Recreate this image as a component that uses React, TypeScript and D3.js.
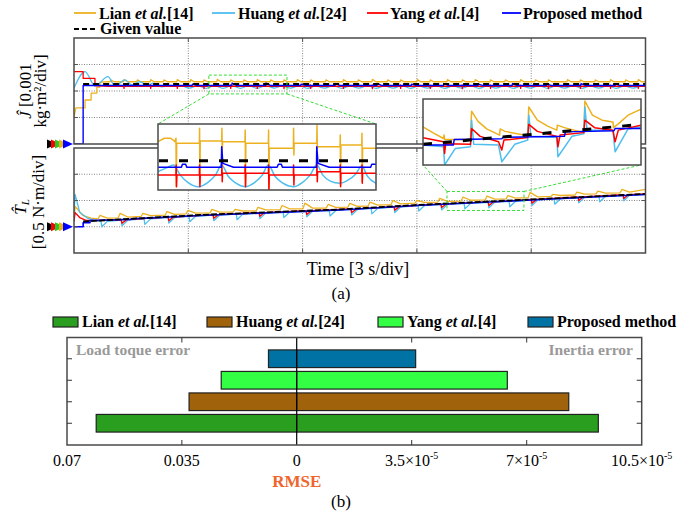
import React from 'react';
import * as d3 from 'd3';

type Pt = [number, number];

// ---------- panel (a) data: time in s, J in 0.001 kg·m²/div, T_L in 0.5 N·m/div ----------
const jGiven: Pt[] = [[0.24, 2.26], [15, 2.26]];

const lianJStart: Pt[] = [[0, 1.02], [0.05, 1.36], [0.29, 1.36], [0.29, 1.66], [0.45, 1.66], [0.45, 1.92], [0.6, 1.92], [0.6, 2.15], [0.68, 2.15], [0.68, 2.33], [0.9, 2.35]];
const lianJLevel = 2.35;
const lianJSpikes: Pt[] = [[0.95, 2.42], [1.3, 2.43], [1.65, 2.42], [2.0, 2.43], [2.35, 2.42], [2.7, 2.43], [3.05, 2.43], [3.4, 2.42], [3.75, 2.44], [4.1, 2.42], [4.45, 2.42], [4.8, 2.43], [5.15, 2.42], [5.5, 2.42], [5.85, 2.43], [6.2, 2.42], [6.6, 2.42], [7.06, 2.43], [7.45, 2.42], [7.82, 2.44], [8.22, 2.42], [8.56, 2.42], [9.0, 2.43], [9.34, 2.42], [9.79, 2.43], [10.18, 2.42], [10.52, 2.43], [10.92, 2.42], [11.31, 2.42], [11.71, 2.43], [12.1, 2.42], [12.44, 2.42], [12.94, 2.43], [13.28, 2.42], [13.67, 2.42], [14.07, 2.43], [14.47, 2.42], [14.8, 2.43]];

const huangJStart: Pt[] = [[0, 2.11], [0.29, 2.73], [0.55, 2.19], [0.89, 2.54], [1.08, 2.19], [1.34, 2.42], [1.52, 2.23], [1.73, 2.35], [1.94, 2.2], [2.07, 2.3], [2.3, 2.16], [2.55, 2.2]];
// [peak time, peak, following trough]
const huangJCycles: [number, number, number][] = [[2.8, 2.2, 2.11], [3.24, 2.2, 2.1], [3.684, 2.2, 2.1], [4.139, 2.2, 2.1], [4.578, 2.2, 2.1], [5.033, 2.2, 2.11], [5.456, 2.19, 2.11], [5.9, 2.2, 2.1], [6.35, 2.19, 2.11], [6.8, 2.2, 2.1], [7.25, 2.19, 2.11], [7.7, 2.2, 2.1], [8.15, 2.19, 2.11], [8.6, 2.2, 2.1], [9.05, 2.19, 2.11], [9.5, 2.2, 2.1], [9.95, 2.19, 2.11], [10.4, 2.2, 2.1], [10.85, 2.19, 2.11], [11.3, 2.2, 2.1], [11.75, 2.19, 2.11], [12.2, 2.2, 2.1], [12.65, 2.19, 2.11], [13.1, 2.2, 2.1], [13.55, 2.19, 2.11], [14.0, 2.2, 2.1], [14.45, 2.19, 2.11], [14.9, 2.2, 2.12]];

const yangJStart: Pt[] = [[0, 2.73], [0.24, 2.73], [0.24, 2.48], [0.55, 2.48], [0.55, 2.2], [0.9, 2.18]];
const yangJLevel = 2.18;
// [time, up, down]
const yangJSpikes: [number, number, number][] = [[1.3, 2.23, 2.1], [2.0, 2.23, 2.1], [2.7, 2.22, 2.1], [3.4, 2.23, 2.09], [4.1, 2.23, 2.1], [4.8, 2.22, 2.1], [5.5, 2.23, 2.09], [6.2, 2.23, 2.1], [7.06, 2.22, 2.1], [7.82, 2.23, 2.09], [8.56, 2.23, 2.1], [9.34, 2.22, 2.1], [10.18, 2.23, 2.09], [10.92, 2.23, 2.1], [11.71, 2.22, 2.1], [12.44, 2.23, 2.09], [13.28, 2.23, 2.1], [14.07, 2.22, 2.1], [14.8, 2.23, 2.1]];

const proposedJStart: Pt[] = [[0, 0], [0.24, 0], [0.24, 2.21]];
const proposedJLevel = 2.21;
const proposedJSpikes: Pt[] = [[3.1, 2.26], [4.14, 2.3], [5.03, 2.3], [5.95, 2.26], [6.85, 2.28], [7.95, 2.28], [8.85, 2.26], [9.7, 2.28], [10.6, 2.26], [11.5, 2.28], [12.4, 2.26], [13.3, 2.28], [14.2, 2.26]];

const tGiven: Pt[] = [[0.24, 0.2], [3.31, 0.45], [6.98, 0.66], [9.0, 0.83], [12.0, 1.04], [15, 1.25]];
const lianTStart: Pt[] = [[0, 0.3], [0.03, 0.77], [0.24, 0.42], [0.45, 0.33]];
// [peak time, trough before, peak]
const lianTSpikes: [number, number, number][] = [[0.68, 0.3, 0.43], [1.21, 0.34, 0.51], [1.81, 0.39, 0.51], [2.44, 0.44, 0.58], [2.99, 0.49, 0.62], [3.62, 0.53, 0.66], [4.23, 0.57, 0.66], [4.83, 0.61, 0.74], [5.46, 0.65, 0.81], [6.06, 0.68, 0.9], [6.67, 0.71, 0.85], [7.24, 0.75, 0.89], [7.77, 0.79, 0.94], [8.37, 0.84, 1.0], [9.0, 0.9, 1.0], [9.6, 0.94, 1.08], [10.21, 0.98, 1.13], [10.84, 1.02, 1.17], [11.39, 1.06, 1.19], [11.97, 1.11, 1.31], [12.57, 1.16, 1.23], [13.2, 1.21, 1.32], [13.75, 1.25, 1.36], [14.38, 1.29, 1.42]];
const lianTEnd: Pt[] = [[15, 1.42]];
const huangTStart: Pt[] = [[0, 0.5], [0.03, 1.23], [0.15, 0.55], [0.35, 0.33], [0.6, 0.22]];
// [dip time, base, dip]
const huangTDips: [number, number, number][] = [[0.73, 0.21, 0.0], [1.26, 0.25, 0.04], [1.86, 0.3, 0.09], [2.49, 0.35, 0.14], [3.04, 0.4, 0.19], [3.67, 0.44, 0.23], [4.28, 0.48, 0.27], [4.88, 0.52, 0.31], [5.51, 0.56, 0.35], [6.11, 0.59, 0.38], [6.72, 0.62, 0.41], [7.29, 0.66, 0.45], [7.82, 0.7, 0.49], [8.42, 0.75, 0.54], [9.05, 0.81, 0.6], [9.65, 0.85, 0.64], [10.26, 0.89, 0.68], [10.89, 0.93, 0.72], [11.44, 0.97, 0.76], [12.02, 1.02, 0.81], [12.62, 1.07, 0.86], [13.25, 1.12, 0.91], [13.8, 1.16, 0.95], [14.43, 1.2, 0.99]];
const huangTEnd: Pt[] = [[15, 1.23]];
const yangTStart: Pt[] = [[0, 0.2], [0.03, 0.54], [0.15, 0.35], [0.3, 0.25], [0.6, 0.23]];
const yangTDips: [number, number, number][] = [[1.26, 0.27, 0.13], [2.49, 0.37, 0.23], [3.67, 0.46, 0.32], [4.88, 0.54, 0.4], [6.11, 0.61, 0.47], [7.29, 0.68, 0.54], [8.42, 0.77, 0.63], [9.65, 0.87, 0.73], [10.89, 0.95, 0.81], [12.02, 1.04, 0.9], [13.25, 1.14, 1.0], [14.43, 1.22, 1.08]];
const yangTEnd: Pt[] = [[15, 1.25]];
const proposedT: Pt[] = [[0, 0], [0.24, 0], [0.24, 0.15], [0.42, 0.15], [0.42, 0.24], [1.5, 0.28], [1.5, 0.3], [3.31, 0.43], [6.98, 0.64], [9.0, 0.81], [12.0, 1.02], [15, 1.23]];

// left inset (zoom of J)
const insetJGiven: Pt[] = [[3.54, 2.26], [5.59, 2.26]];
const insetJLian: Pt[] = [[3.54, 2.419], [3.6, 2.447], [3.66, 2.447], [3.7, 2.419], [3.709, 2.447], [3.712, 2.044], [3.716, 2.405], [3.929, 2.405], [3.931, 2.53], [3.934, 2.072], [3.937, 2.424], [4.139, 2.424], [4.141, 2.53], [4.144, 2.335], [4.147, 2.419], [4.358, 2.419], [4.36, 2.516], [4.363, 2.044], [4.366, 2.405], [4.578, 2.405], [4.58, 2.516], [4.583, 2.016], [4.586, 2.363], [4.813, 2.363], [4.815, 2.53], [4.818, 2.308], [4.821, 2.405], [5.033, 2.405], [5.035, 2.558], [5.038, 2.363], [5.041, 2.377], [5.252, 2.377], [5.254, 2.474], [5.257, 2.058], [5.26, 2.391], [5.456, 2.391], [5.458, 2.488], [5.461, 2.085], [5.464, 2.363], [5.59, 2.363]];
const insetJHuang: Pt[] = [[3.54, 2.17], [3.62, 2.2], [3.684, 2.224], [3.75, 2.14], [3.82, 2.08], [3.919, 2.044], [4.01, 2.08], [4.08, 2.14], [4.139, 2.224], [4.2, 2.13], [4.27, 2.075], [4.358, 2.044], [4.45, 2.08], [4.52, 2.14], [4.578, 2.224], [4.64, 2.13], [4.71, 2.075], [4.813, 2.044], [4.9, 2.08], [4.97, 2.14], [5.033, 2.224], [5.09, 2.14], [5.16, 2.09], [5.252, 2.072], [5.33, 2.1], [5.4, 2.15], [5.456, 2.216], [5.51, 2.13], [5.59, 2.072]];
const insetJYang: Pt[] = [[3.54, 2.141], [3.709, 2.141], [3.711, 2.224], [3.714, 2.044], [3.718, 2.141], [3.929, 2.141], [3.931, 2.224], [3.934, 2.044], [3.937, 2.141], [4.139, 2.141], [4.141, 2.238], [4.144, 2.085], [4.147, 2.155], [4.358, 2.155], [4.36, 2.224], [4.363, 2.044], [4.366, 2.155], [4.578, 2.155], [4.58, 2.224], [4.583, 2.016], [4.586, 2.141], [4.813, 2.141], [4.815, 2.224], [4.818, 2.058], [4.821, 2.141], [5.033, 2.141], [5.035, 2.238], [5.038, 2.085], [5.041, 2.169], [5.252, 2.169], [5.254, 2.224], [5.257, 2.044], [5.26, 2.155], [5.456, 2.155], [5.458, 2.224], [5.461, 2.072], [5.464, 2.155], [5.59, 2.155]];
const insetJProposed: Pt[] = [[3.54, 2.205], [3.76, 2.205], [3.77, 2.23], [3.8, 2.23], [3.81, 2.205], [4.135, 2.205], [4.139, 2.377], [4.15, 2.238], [4.25, 2.205], [4.66, 2.205], [4.672, 2.23], [4.7, 2.23], [4.71, 2.205], [5.03, 2.205], [5.033, 2.377], [5.045, 2.238], [5.15, 2.205], [5.54, 2.205], [5.55, 2.23], [5.59, 2.23]];

// right inset (zoom of T_L)
const insetTGiven: Pt[] = [[9.79, 0.866], [11.81, 1.026]];
const insetTLian: Pt[] = [[9.79, 1.006], [9.88, 0.96], [9.98, 0.913], [9.985, 0.94], [9.99, 0.905], [10.23, 0.905], [10.24, 1.132], [10.3, 1.05], [10.38, 0.99], [10.5, 0.94], [10.505, 0.99], [10.55, 0.97], [10.76, 0.935], [10.77, 1.166], [10.85, 1.06], [10.95, 1.01], [11.03, 0.98], [11.035, 1.02], [11.1, 1.0], [11.28, 0.96], [11.29, 1.214], [11.36, 1.1], [11.45, 1.06], [11.55, 1.046], [11.555, 1.0], [11.6, 1.03], [11.69, 1.1], [11.81, 1.148]];
const insetTHuang: Pt[] = [[9.79, 0.86], [9.98, 0.846], [9.99, 0.7], [10.09, 0.833], [10.23, 0.846], [10.24, 1.06], [10.26, 0.866], [10.49, 0.86], [10.52, 0.726], [10.64, 0.866], [10.76, 0.9], [10.77, 1.1], [10.79, 0.93], [11.03, 0.92], [11.04, 0.766], [11.17, 0.93], [11.28, 0.95], [11.29, 1.166], [11.31, 0.98], [11.55, 0.98], [11.57, 0.806], [11.69, 0.99], [11.81, 1.006]];
const insetTYang: Pt[] = [[9.79, 0.918], [9.98, 0.886], [9.99, 0.793], [10.0, 0.87], [10.23, 0.866], [10.24, 0.993], [10.32, 0.93], [10.49, 0.886], [10.52, 0.82], [10.54, 0.9], [10.76, 0.92], [10.77, 1.026], [10.85, 0.97], [11.03, 0.93], [11.04, 0.846], [11.06, 0.94], [11.28, 0.96], [11.29, 1.06], [11.38, 1.0], [11.55, 0.98], [11.57, 0.886], [11.6, 0.98], [11.81, 1.02]];
const insetTProposed: Pt[] = [[9.79, 0.86], [10.07, 0.86], [10.08, 0.905], [10.52, 0.91], [10.53, 0.922], [11.1, 0.93], [11.11, 0.966], [11.56, 0.975], [11.57, 0.993], [11.81, 0.993]];

// ---------- panel (b) data ----------
const methods = ['Lian', 'Huang', 'Yang', 'Proposed method'];
const methodRefs = ['[14]', '[24]', '[4]', ''];
const loadTorqueRmse = [0.0611, 0.0328, 0.023, 0.0086];
const inertiaRmse = [9.18e-5, 8.28e-5, 6.41e-5, 3.62e-5];
const leftTicks = [0.07, 0.035, 0];
const leftTickLabels = ['0.07', '0.035', '0'];
const rightTicks = [3.5e-5, 7e-5, 10.5e-5];
const rightTickLabels = ['3.5', '7', '10.5'];

const lineColors = ['#EDB120', '#4DBEEE', '#FF0000', '#0000FF'];
const barColors = ['#2A9E1E', '#A0620A', '#33FF44', '#0072A3'];

const SERIF = 'Liberation Serif, Times New Roman, serif';

const spikeTrain = (start: Pt[], level: number, spikes: Pt[], rise: number, fall: number): Pt[] => {
  const pts: Pt[] = [...start];
  spikes.forEach(([t, p]) => pts.push([t, level], [t + rise, p], [t + fall, level]));
  pts.push([15, level]);
  return pts;
};

const Label = ({ name, refTxt }: { name: string; refTxt: string }) =>
  refTxt ? (
    <>
      {name + ' '}
      <tspan fontStyle="italic">et al.</tspan>
      {refTxt}
    </>
  ) : (
    <>{name}</>
  );

export default function App() {
  const xA = d3.scaleLinear().domain([0, 15]).range([74, 645.5]);
  const yJ = d3.scaleLinear().domain([0, 4]).range([144, 38]);
  const yT = d3.scaleLinear().domain([-1, 3]).range([253, 148]);

  const lineGen = (xs: d3.ScaleLinear<number, number>, ys: d3.ScaleLinear<number, number>, curve: d3.CurveFactory = d3.curveLinear) =>
    d3.line<Pt>().x(d => xs(d[0])).y(d => ys(d[1])).curve(curve);

  // build traces
  const lianJ = spikeTrain(lianJStart, lianJLevel, lianJSpikes, 0.012, 0.1);
  const proposedJ = spikeTrain(proposedJStart, proposedJLevel, proposedJSpikes, 0.01, 0.12);
  const yangJ: Pt[] = [...yangJStart];
  yangJSpikes.forEach(([t, u, d]) => yangJ.push([t, yangJLevel], [t + 0.005, u], [t + 0.012, d], [t + 0.02, yangJLevel]));
  yangJ.push([15, yangJLevel]);
  const huangJ: Pt[] = [...huangJStart];
  huangJCycles.forEach(([t, p, tr]) => huangJ.push([t, p], [t + 0.23, tr]));

  const lianT: Pt[] = [...lianTStart];
  lianTSpikes.forEach(([t, tr, p]) => lianT.push([t - 0.05, tr], [t, p], [t + 0.2, tr + 0.03]));
  lianT.push(...lianTEnd);
  const huangT: Pt[] = [...huangTStart];
  huangTDips.forEach(([t, b, d]) => huangT.push([t - 0.02, b], [t, d], [t + 0.15, b]));
  huangT.push(...huangTEnd);
  const yangT: Pt[] = [...yangTStart];
  yangTDips.forEach(([t, b, d]) => yangT.push([t - 0.02, b], [t, d], [t + 0.12, b]));
  yangT.push(...yangTEnd);

  // inset scales
  const inL = { x0: 158, x1: 376, y0: 124, y1: 190 };
  const inR = { x0: 423, x1: 641, y0: 99, y1: 165 };
  const xIL = d3.scaleLinear().domain([3.54, 5.59]).range([inL.x0, inL.x1]);
  const yIL = d3.scaleLinear().domain([2.016, 2.566]).range([inL.y1, inL.y0]);
  const xIR = d3.scaleLinear().domain([9.79, 11.81]).range([inR.x0, inR.x1]);
  const yIR = d3.scaleLinear().domain([0.7, 1.23]).range([inR.y1, inR.y0]);
  // zoomed windows in the main panels
  const winL = { t: [3.54, 5.59], v: [1.89, 2.6] };
  const winR = { t: [9.79, 11.81], v: [0.62, 1.345] };

  const panels = [
    { y: yJ, top: 38, bot: 144, grid: [1, 2, 3], id: 'cJ' },
    { y: yT, top: 148, bot: 253, grid: [0, 1, 2], id: 'cT' },
  ];
  const xGrid = [3, 6, 9, 12];

  const arrowColors = ['#000000', '#FF0000', '#22CC22', '#EDB120', '#0000FF'];
  const arrowTips = [57, 61, 65, 69, 73];

  // panel (b)
  const xL = d3.scaleLinear().domain([0.07, 0]).range([67, 296.7]);
  const xR = d3.scaleLinear().domain([0, 10.5e-5]).range([296.7, 641.7]);
  const barOrder = [3, 2, 1, 0];
  const yB = d3.scaleBand<number>().domain(barOrder).range([348, 434]).paddingInner(0.18).paddingOuter(0.09);
  const bTop = 337.5, bBot = 445, bLeft = 67, bRight = 641.7;

  const legendA = [
    { x: 74, len: 22, tx: 99 },
    { x: 212, len: 23, tx: 238 },
    { x: 367, len: 21, tx: 390 },
    { x: 502, len: 19, tx: 523 },
  ];
  const legendB = [53, 207, 378, 528];

  const traces = (xs: any, ys: any, sets: { d: Pt[]; c: string; w: number; curve?: d3.CurveFactory }[]) =>
    sets.map((s, i) => (
      <path key={i} d={lineGen(xs, ys, s.curve)(s.d) || ''} fill="none" stroke={s.c} strokeWidth={s.w} strokeLinejoin="round" />
    ));

  return (
    <svg width={679} height={516} style={{ position: 'absolute', left: 0, top: 0, background: '#fff', fontFamily: SERIF }}>
      <defs>
        {panels.map(p => (
          <clipPath id={p.id} key={p.id}>
            <rect x={74} y={p.top} width={571.5} height={p.bot - p.top} />
          </clipPath>
        ))}
        <clipPath id="cIL"><rect x={inL.x0} y={inL.y0} width={inL.x1 - inL.x0} height={inL.y1 - inL.y0} /></clipPath>
        <clipPath id="cIR"><rect x={inR.x0} y={inR.y0} width={inR.x1 - inR.x0} height={inR.y1 - inR.y0} /></clipPath>
      </defs>

      {/* legend (a) */}
      <g fontWeight="bold" fontSize={16}>
        {legendA.map((l, i) => (
          <g key={i}>
            <line x1={l.x} x2={l.x + l.len} y1={13} y2={13} stroke={lineColors[i]} strokeWidth={1.8} />
            <text x={l.tx} y={19}><Label name={methods[i]} refTxt={methodRefs[i]} /></text>
          </g>
        ))}
        <line x1={74} x2={97} y1={29} y2={29} stroke="#000" strokeWidth={2} strokeDasharray="5,3" />
        <text x={100} y={34}>Given value</text>
      </g>

      {/* panels (a) */}
      {panels.map(p => (
        <g key={p.id}>
          {xGrid.map(t => (
            <line key={'x' + t} x1={xA(t)} x2={xA(t)} y1={p.top} y2={p.bot} stroke="#666" strokeWidth={0.8} strokeDasharray="1,1.5" />
          ))}
          {p.grid.map(v => (
            <line key={'y' + v} x1={74} x2={645.5} y1={p.y(v)} y2={p.y(v)} stroke="#666" strokeWidth={0.8} strokeDasharray="1,1.5" />
          ))}
        </g>
      ))}
      <g clipPath="url(#cJ)">
        {traces(xA, yJ, [
          { d: lianJ, c: lineColors[0], w: 1.3 },
          { d: huangJ, c: lineColors[1], w: 1.3, curve: d3.curveMonotoneX },
          { d: yangJ, c: lineColors[2], w: 1.3 },
          { d: proposedJ, c: lineColors[3], w: 1.4 },
        ])}
        <path d={lineGen(xA, yJ)(jGiven) || ''} fill="none" stroke="#000" strokeWidth={2} strokeDasharray="6,4" />
      </g>
      <g clipPath="url(#cT)">
        {traces(xA, yT, [
          { d: lianT, c: lineColors[0], w: 1.3 },
          { d: huangT, c: lineColors[1], w: 1.3 },
          { d: yangT, c: lineColors[2], w: 1.3 },
          { d: proposedT, c: lineColors[3], w: 1.6 },
        ])}
        <path d={lineGen(xA, yT)(tGiven) || ''} fill="none" stroke="#000" strokeWidth={1.8} strokeDasharray="6,2" />
      </g>
      {panels.map(p => (
        <g key={'b' + p.id}>
          {xGrid.map(t => (
            <g key={t}>
              <line x1={xA(t)} x2={xA(t)} y1={p.top} y2={p.top + 4} stroke="#555" />
              <line x1={xA(t)} x2={xA(t)} y1={p.bot} y2={p.bot - 4} stroke="#555" />
            </g>
          ))}
          {p.grid.map(v => (
            <g key={v}>
              <line x1={74} x2={78} y1={p.y(v)} y2={p.y(v)} stroke="#555" />
              <line x1={645.5} x2={641.5} y1={p.y(v)} y2={p.y(v)} stroke="#555" />
            </g>
          ))}
          <rect x={74} y={p.top} width={571.5} height={p.bot - p.top} fill="none" stroke="#4a4a4a" strokeWidth={1.5} />
          {arrowColors.map((c, i) => (
            <path key={i} d={`M${arrowTips[i] - 10},${p.y(0) - 4.5}L${arrowTips[i]},${p.y(0)}L${arrowTips[i] - 10},${p.y(0) + 4.5}Z`} fill={c} />
          ))}
        </g>
      ))}

      {/* zoom windows and connectors */}
      <g fill="none" stroke="#33DD33" strokeWidth={1} strokeDasharray="3,2">
        <rect x={xA(winL.t[0])} y={yJ(winL.v[1])} width={xA(winL.t[1]) - xA(winL.t[0])} height={yJ(winL.v[0]) - yJ(winL.v[1])} />
        <line x1={xA(winL.t[0])} y1={yJ(winL.v[0])} x2={inL.x0} y2={inL.y0} />
        <line x1={xA(winL.t[1])} y1={yJ(winL.v[0])} x2={inL.x1} y2={inL.y0} />
        <rect x={xA(winR.t[0])} y={yT(winR.v[1])} width={xA(winR.t[1]) - xA(winR.t[0])} height={yT(winR.v[0]) - yT(winR.v[1])} />
        <line x1={xA(winR.t[0])} y1={yT(winR.v[1])} x2={inR.x0} y2={inR.y1} />
        <line x1={xA(winR.t[1])} y1={yT(winR.v[1])} x2={inR.x1} y2={inR.y1} />
      </g>

      {/* insets */}
      <rect x={inL.x0} y={inL.y0} width={inL.x1 - inL.x0} height={inL.y1 - inL.y0} fill="#fff" />
      <g clipPath="url(#cIL)">
        {traces(xIL, yIL, [
          { d: insetJLian, c: lineColors[0], w: 1.5 },
          { d: insetJHuang, c: lineColors[1], w: 1.5, curve: d3.curveMonotoneX },
          { d: insetJYang, c: lineColors[2], w: 1.5 },
          { d: insetJProposed, c: lineColors[3], w: 1.5 },
        ])}
        <path d={lineGen(xIL, yIL)(insetJGiven) || ''} fill="none" stroke="#000" strokeWidth={3} strokeDasharray="9,11" strokeDashoffset={-1} />
      </g>
      <rect x={inL.x0} y={inL.y0} width={inL.x1 - inL.x0} height={inL.y1 - inL.y0} fill="none" stroke="#4a4a4a" strokeWidth={1.5} />

      <rect x={inR.x0} y={inR.y0} width={inR.x1 - inR.x0} height={inR.y1 - inR.y0} fill="#fff" />
      <g clipPath="url(#cIR)">
        {traces(xIR, yIR, [
          { d: insetTLian, c: lineColors[0], w: 1.5 },
          { d: insetTHuang, c: lineColors[1], w: 1.5 },
          { d: insetTYang, c: lineColors[2], w: 1.5 },
          { d: insetTProposed, c: lineColors[3], w: 1.5 },
        ])}
        <path d={lineGen(xIR, yIR)(insetTGiven) || ''} fill="none" stroke="#000" strokeWidth={3} strokeDasharray="9,11" />
      </g>
      <rect x={inR.x0} y={inR.y0} width={inR.x1 - inR.x0} height={inR.y1 - inR.y0} fill="none" stroke="#4a4a4a" strokeWidth={1.5} />

      {/* axis labels (a) */}
      <g fontSize={17} textAnchor="middle">
        <text transform="translate(31,91) rotate(-90)"><tspan fontStyle="italic">Ĵ</tspan> [0.001</text>
        <text transform="translate(46,91) rotate(-90)">kg·m²/div]</text>
        <text transform="translate(26,207) rotate(-90)"><tspan fontStyle="italic">T̂</tspan><tspan fontSize={11} fontStyle="italic" dy={3}>L</tspan></text>
        <text transform="translate(44,202) rotate(-90)">[0.5 N·m/div]</text>
        <text x={358} y={275} fontSize={18}>Time [3 s/div]</text>
        <text x={341} y={299}>(a)</text>
      </g>

      {/* legend (b) */}
      <g fontWeight="bold" fontSize={16}>
        {legendB.map((x, i) => (
          <g key={i}>
            <rect x={x} y={317} width={25} height={10} fill={barColors[i]} stroke="#222" strokeWidth={1.2} />
            <text x={x + 29} y={327}><Label name={methods[i]} refTxt={methodRefs[i]} /></text>
          </g>
        ))}
      </g>

      {/* bars (b) */}
      {barOrder.map(i => (
        <g key={i}>
          <rect x={xL(loadTorqueRmse[i])} y={yB(i)} width={xL(0) - xL(loadTorqueRmse[i])} height={yB.bandwidth()} fill={barColors[i]} stroke="#222" strokeWidth={1.2} />
          <rect x={xR(0)} y={yB(i)} width={xR(inertiaRmse[i]) - xR(0)} height={yB.bandwidth()} fill={barColors[i]} stroke="#222" strokeWidth={1.2} />
        </g>
      ))}
      <line x1={xR(0)} x2={xR(0)} y1={bTop} y2={bBot} stroke="#000" strokeWidth={1.2} />
      <rect x={bLeft} y={bTop} width={bRight - bLeft} height={bBot - bTop} fill="none" stroke="#4a4a4a" strokeWidth={1.5} />
      {barOrder.map(i => {
        const yc = (yB(i) || 0) + yB.bandwidth() / 2;
        return (
          <g key={'t' + i} stroke="#333">
            <line x1={bLeft} x2={bLeft + 5} y1={yc} y2={yc} />
            <line x1={bRight} x2={bRight - 5} y1={yc} y2={yc} />
          </g>
        );
      })}
      {[xL(0.035), xR(3.5e-5), xR(7e-5)].map((x, i) => (
        <g key={'xt' + i} stroke="#333">
          <line x1={x} x2={x} y1={bTop} y2={bTop + 5} />
          <line x1={x} x2={x} y1={bBot} y2={bBot - 5} />
        </g>
      ))}
      <g fontSize={16} textAnchor="middle">
        {leftTicks.map((v, i) => (
          <text key={'l' + i} x={xL(v)} y={466}>{leftTickLabels[i]}</text>
        ))}
        {rightTicks.map((v, i) => (
          <text key={'r' + i} x={xR(v)} y={466}>
            {rightTickLabels[i]}×10<tspan fontSize={10} dy={-7}>-5</tspan>
          </text>
        ))}
      </g>
      <text x={76} y={355} fontSize={15.5} fontWeight="bold" fill="#999">Load toque error</text>
      <text x={633} y={355} fontSize={15.5} fontWeight="bold" fill="#999" textAnchor="end">Inertia error</text>
      <text x={296.7} y={487} fontSize={17} fontWeight="bold" fill="#F0642D" textAnchor="middle">RMSE</text>
      <text x={341} y={507} fontSize={17} textAnchor="middle">(b)</text>
    </svg>
  );
}
